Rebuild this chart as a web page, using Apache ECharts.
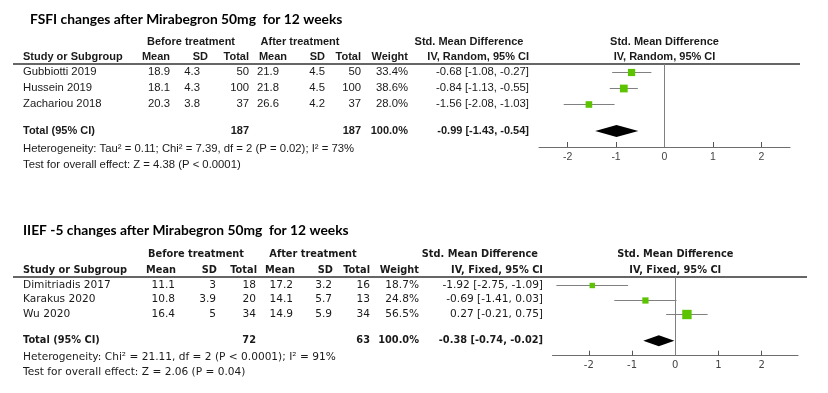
<!DOCTYPE html>
<html><head><meta charset="utf-8">
<script src="https://cdn.jsdelivr.net/npm/echarts@6/dist/echarts.min.js"></script>
<style>html,body{margin:0;padding:0;background:#fff}#c{width:828px;height:393px}</style>
</head><body><div id="c"></div>
<script>
// ---------- Panel 1: FSFI ----------
const title1 = 'FSFI changes after Mirabegron 50mg  for 12 weeks';
const studies1 = ['Gubbiotti 2019', 'Hussein 2019', 'Zachariou 2018'];
const beforeMean1 = ['18.9', '18.1', '20.3'];
const beforeSD1 = ['4.3', '4.3', '3.8'];
const beforeN1 = ['50', '100', '37'];
const afterMean1 = ['21.9', '21.8', '26.6'];
const afterSD1 = ['4.5', '4.5', '4.2'];
const afterN1 = ['50', '100', '37'];
const weight1 = [33.4, 38.6, 28.0];
const smd1 = [-0.68, -0.84, -1.56];
const lo1 = [-1.08, -1.13, -2.08];
const hi1 = [-0.27, -0.55, -1.03];
const total1 = {nBefore: '187', nAfter: '187', weight: '100.0%', est: -0.99, lo: -1.43, hi: -0.54};
const het1 = 'Heterogeneity: Tau\u00b2 = 0.11; Chi\u00b2 = 7.39, df = 2 (P = 0.02); I\u00b2 = 73%';
const test1 = 'Test for overall effect: Z = 4.38 (P < 0.0001)';
const method1 = 'IV, Random, 95% CI';

// ---------- Panel 2: IIEF-5 ----------
const title2 = 'IIEF -5 changes after Mirabegron 50mg  for 12 weeks';
const studies2 = ['Dimitriadis 2017', 'Karakus 2020', 'Wu 2020'];
const beforeMean2 = ['11.1', '10.8', '16.4'];
const beforeSD2 = ['3', '3.9', '5'];
const beforeN2 = ['18', '20', '34'];
const afterMean2 = ['17.2', '14.1', '14.9'];
const afterSD2 = ['3.2', '5.7', '5.9'];
const afterN2 = ['16', '13', '34'];
const weight2 = [18.7, 24.8, 56.5];
const smd2 = [-1.92, -0.69, 0.27];
const lo2 = [-2.75, -1.41, -0.21];
const hi2 = [-1.09, 0.03, 0.75];
const total2 = {nBefore: '72', nAfter: '63', weight: '100.0%', est: -0.38, lo: -0.74, hi: -0.02};
const het2 = 'Heterogeneity: Chi\u00b2 = 21.11, df = 2 (P < 0.0001); I\u00b2 = 91%';
const test2 = 'Test for overall effect: Z = 2.06 (P = 0.04)';
const method2 = 'IV, Fixed, 95% CI';

const ticks = [-2, -1, 0, 1, 2];

const fmt = v => (v < 0 ? '-' : '') + Math.abs(v).toFixed(2);
const ciText = (e, l, h) => fmt(e) + ' [' + fmt(l) + ', ' + fmt(h) + ']';

const chart = echarts.init(document.getElementById('c'), null, {renderer: 'canvas'});

const GREEN = '#5cc300';
const GREY = '#808080';

function studySeries(gi, smd, lo, hi, w, k) {
  return {
    type: 'custom', xAxisIndex: gi, yAxisIndex: gi, silent: true,
    data: smd.map((e, i) => [e, lo[i], hi[i], i, w[i]]),
    encode: {x: [0, 1, 2], y: 3},
    renderItem: function (params, api) {
      const r = api.value(3);
      const a = api.coord([api.value(1), r]);
      const b = api.coord([api.value(2), r]);
      const c = api.coord([api.value(0), r]);
      const yy = Math.round(a[1]) + 0.5;
      const s = k * Math.sqrt(api.value(4));
      return {type: 'group', children: [
        {type: 'line', shape: {x1: a[0], y1: yy, x2: b[0], y2: yy}, style: {stroke: GREY, lineWidth: 1}},
        {type: 'rect', shape: {x: c[0] - s / 2, y: yy - s / 2, width: s, height: s}, style: {fill: GREEN}}
      ]};
    },
    markLine: {
      silent: true, symbol: ['none', 'none'], label: {show: false},
      lineStyle: {color: GREY, width: 1, type: 'solid'},
      data: [{xAxis: 0}]
    }
  };
}
function diamondSeries(gi, t, row, h) {
  return {
    type: 'custom', xAxisIndex: gi, yAxisIndex: gi, silent: true,
    data: [[t.est, t.lo, t.hi, row]],
    encode: {x: [0, 1, 2], y: 3},
    renderItem: function (params, api) {
      const r = api.value(3);
      const l = api.coord([api.value(1), r]);
      const rr = api.coord([api.value(2), r]);
      const c = api.coord([api.value(0), r]);
      return {type: 'polygon', shape: {points: [[l[0], l[1]], [c[0], c[1] - h], [rr[0], rr[1]], [c[0], c[1] + h]]},
        style: {fill: '#000'}};
    }
  };
}

function xAx(gi, min, max, font, fs, margin) {
  return {
    type: 'value', gridIndex: gi, min: min, max: max, position: 'bottom',
    axisLine: {show: true, onZero: false, lineStyle: {color: '#6e6e6e', width: 1}},
    axisTick: {show: true, inside: true, length: 5, customValues: ticks, lineStyle: {color: '#555'}},
    axisLabel: {show: true, customValues: ticks, margin: margin, color: '#444', fontFamily: font, fontSize: fs,
      formatter: v => (v < 0 ? '-' : '') + Math.abs(v)},
    splitLine: {show: false}
  };
}
function yAx(gi, min, max) {
  return {type: 'value', gridIndex: gi, min: min, max: max, inverse: true, show: false,
    axisLine: {show: false}, splitLine: {show: false}};
}

const TOT1 = 3.7, TOT2 = 3.87;

chart.setOption({
  animation: false,
  grid: [
    {left: 539, top: 64, width: 251, height: 83},
    {left: 552.5, top: 277, width: 245.5, height: 78.7}
  ],
  xAxis: [xAx(0, -2.59, 2.59, 'Liberation Sans', 10.5, 5), xAx(1, -2.84, 2.84, 'DejaVu Sans', 10, 5)],
  yAxis: [yAx(0, -0.5, 4.7), yAx(1, -0.58, 4.92)],
  series: [
    studySeries(0, smd1, lo1, hi1, weight1, 1.25),
    diamondSeries(0, total1, TOT1, 6),
    studySeries(1, smd2, lo2, hi2, weight2, 1.25),
    diamondSeries(1, total2, TOT2, 5.5)
  ]
});

// ---------- table text ----------
const g = [];
function txt(x, y, s, font, align, col) {
  g.push({type: 'text', x: x, y: y, silent: true,
    style: {text: s, font: font, fill: col || '#1a1a1a', align: align || 'left', verticalAlign: 'middle'}});
}
function rowY(gi, r) { return chart.convertToPixel({xAxisIndex: gi, yAxisIndex: gi}, [0, r])[1]; }
function zeroX(gi) { return chart.convertToPixel({xAxisIndex: gi, yAxisIndex: gi}, [0, 0])[0]; }

// Panel 1
(function () {
  const R = '11.3px "Liberation Sans"', B = 'bold 11px "Liberation Sans"';
  txt(30, 20, title1, 'bold 13.8px Lato', 'left', '#000');
  const h1 = 42, h2 = 57;
  txt(191, h1, 'Before treatment', B, 'center');
  txt(300, h1, 'After treatment', B, 'center');
  txt(469, h1, 'Std. Mean Difference', B, 'center');
  txt(zeroX(0), h1, 'Std. Mean Difference', B, 'center');
  txt(23, h2, 'Study or Subgroup', B);
  txt(170, h2, 'Mean', B, 'right');
  txt(208, h2, 'SD', B, 'right');
  txt(249, h2, 'Total', B, 'right');
  txt(287, h2, 'Mean', B, 'right');
  txt(325, h2, 'SD', B, 'right');
  txt(361, h2, 'Total', B, 'right');
  txt(408, h2, 'Weight', B, 'right');
  txt(529, h2, method1, B, 'right');
  txt(zeroX(0), h2, method1, B, 'center');
  studies1.forEach((s, i) => {
    const y = rowY(0, i);
    txt(23, y, s, R);
    txt(170, y, beforeMean1[i], R, 'right');
    txt(200, y, beforeSD1[i], R, 'right');
    txt(249, y, beforeN1[i], R, 'right');
    txt(279, y, afterMean1[i], R, 'right');
    txt(325, y, afterSD1[i], R, 'right');
    txt(361, y, afterN1[i], R, 'right');
    txt(408, y, weight1[i].toFixed(1) + '%', R, 'right');
    txt(529, y, ciText(smd1[i], lo1[i], hi1[i]), R, 'right');
  });
  const ty = rowY(0, TOT1);
  txt(23, ty, 'Total (95% CI)', B);
  txt(249, ty, total1.nBefore, B, 'right');
  txt(361, ty, total1.nAfter, B, 'right');
  txt(408, ty, total1.weight, B, 'right');
  txt(529, ty, ciText(total1.est, total1.lo, total1.hi), B, 'right');
  txt(23, 149, het1, R);
  txt(23, 165, test1, R);
  g.push({type: 'line', silent: true, shape: {x1: 13, y1: 64, x2: 800, y2: 64}, style: {stroke: '#333', lineWidth: 1.5}});
})();

// Panel 2
(function () {
  const R = '10.6px "DejaVu Sans"', B = 'bold 9.8px "DejaVu Sans"';
  txt(23, 231, title2, 'bold 13.8px Lato', 'left', '#000');
  const h1 = 254, h2 = 270;
  txt(196, h1, 'Before treatment', B, 'center');
  txt(313, h1, 'After treatment', B, 'center');
  txt(538, h1, 'Std. Mean Difference', B, 'right');
  txt(zeroX(1), h1, 'Std. Mean Difference', B, 'center');
  txt(23, h2, 'Study or Subgroup', B);
  txt(176, h2, 'Mean', B, 'right');
  txt(217, h2, 'SD', B, 'right');
  txt(257, h2, 'Total', B, 'right');
  txt(295, h2, 'Mean', B, 'right');
  txt(333, h2, 'SD', B, 'right');
  txt(370, h2, 'Total', B, 'right');
  txt(419, h2, 'Weight', B, 'right');
  txt(543, h2, method2, B, 'right');
  txt(zeroX(1), h2, method2, B, 'center');
  studies2.forEach((s, i) => {
    const y = rowY(1, i);
    txt(23, y, s, R);
    txt(175, y, beforeMean2[i], R, 'right');
    txt(216, y, beforeSD2[i], R, 'right');
    txt(256, y, beforeN2[i], R, 'right');
    txt(293, y, afterMean2[i], R, 'right');
    txt(332, y, afterSD2[i], R, 'right');
    txt(370, y, afterN2[i], R, 'right');
    txt(419, y, weight2[i].toFixed(1) + '%', R, 'right');
    txt(543, y, ciText(smd2[i], lo2[i], hi2[i]), R, 'right');
  });
  const ty = rowY(1, TOT2);
  txt(23, ty, 'Total (95% CI)', B);
  txt(256, ty, total2.nBefore, B, 'right');
  txt(370, ty, total2.nAfter, B, 'right');
  txt(419, ty, total2.weight, B, 'right');
  txt(543, ty, ciText(total2.est, total2.lo, total2.hi), B, 'right');
  txt(23, 357, het2, R);
  txt(23, 372, test2, R);
  g.push({type: 'line', silent: true, shape: {x1: 13, y1: 277, x2: 807, y2: 277}, style: {stroke: '#333', lineWidth: 1.5}});
})();

chart.setOption({graphic: g});
</script>
</body></html>
